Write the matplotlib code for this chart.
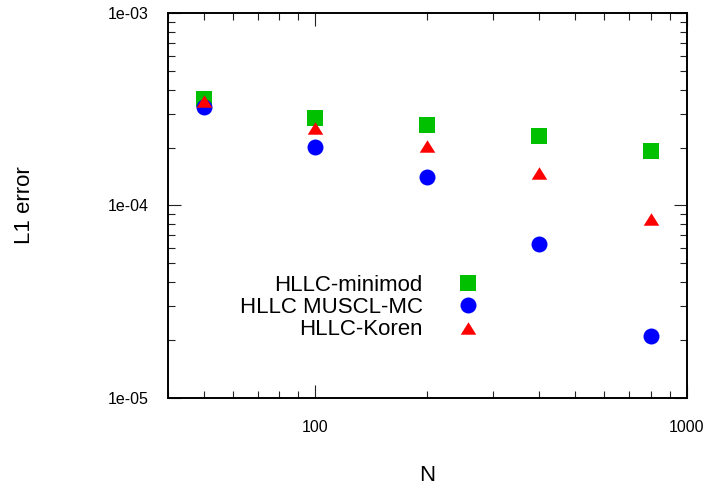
import matplotlib
matplotlib.use('Agg')
import matplotlib.pyplot as plt
from matplotlib.ticker import LogLocator, FixedLocator, FuncFormatter, NullFormatter

plt.rcParams['font.family'] = ['Liberation Sans', 'DejaVu Sans']

# grid sizes and L1 errors for each scheme
N = [50, 100, 200, 400, 800]
err_minimod = [3.57e-4, 2.84e-4, 2.61e-4, 2.29e-4, 1.93e-4]
err_muscl_mc = [3.24e-4, 2.01e-4, 1.41e-4, 6.29e-5, 2.09e-5]
err_koren = [3.48e-4, 2.54e-4, 2.04e-4, 1.48e-4, 8.48e-5]
labels = ['HLLC-minimod', 'HLLC MUSCL-MC', 'HLLC-Koren']

W, H = 708, 490
fig = plt.figure(figsize=(W / 100, H / 100), dpi=100)
ax = fig.add_axes([167.7 / W, 1 - 397.7 / H, (686.7 - 167.7) / W, (397.7 - 13.3) / H])

# gnuplot-like flat triangle, centred on its bounding box
tri = [(-1, -0.8), (1, -0.8), (0, 0.8)]

ax.plot(N, err_minimod, ls='none', marker='s', ms=12, mew=0, color='#00c000', label=labels[0])
ax.plot(N, err_muscl_mc, ls='none', marker='o', ms=11.5, mew=0, color='#0000ff', label=labels[1])
ax.plot(N, err_koren, ls='none', marker=tri, ms=11.2, mew=0, color='#ff0000', label=labels[2])

ax.set_xscale('log')
ax.set_yscale('log')
ax.set_xlim(40, 1000)
ax.set_ylim(1e-5, 1e-3)

ax.xaxis.set_major_locator(FixedLocator([100, 1000]))
ax.xaxis.set_major_formatter(FuncFormatter(lambda v, p: f'{v:.0f}'))
ax.xaxis.set_minor_locator(LogLocator(base=10, subs=range(2, 10)))
ax.xaxis.set_minor_formatter(NullFormatter())
ax.yaxis.set_major_locator(FixedLocator([1e-5, 1e-4, 1e-3]))
ax.yaxis.set_major_formatter(FuncFormatter(lambda v, p: f'{v:.0e}'))
ax.yaxis.set_minor_locator(LogLocator(base=10, subs=range(2, 10)))
ax.yaxis.set_minor_formatter(NullFormatter())

ax.tick_params(which='both', direction='in', top=True, right=True, width=0.8, color='#222222')
ax.tick_params(which='major', length=9.4, labelsize=11.5)
ax.tick_params(which='minor', length=5)
ax.tick_params(axis='x', which='major', pad=16)
ax.tick_params(axis='y', which='major', pad=14)
for s in ax.spines.values():
    s.set_linewidth(1.4)

fig.text(427 / W, 1 - 475.7 / H, 'N', fontsize=16, ha='center', va='center')
fig.text(25 / W, 1 - 205 / H, 'L1 error', fontsize=16, ha='center', va='center', rotation=90)

ax.legend(loc='center right', bbox_to_anchor=(490.5 / W, 1 - 307.5 / H), bbox_transform=fig.transFigure,
          frameon=False, markerfirst=False, fontsize=16, handlelength=2, handletextpad=1.05,
          labelspacing=0.06, borderpad=0, borderaxespad=0)

fig.savefig('out.png', dpi=100)
